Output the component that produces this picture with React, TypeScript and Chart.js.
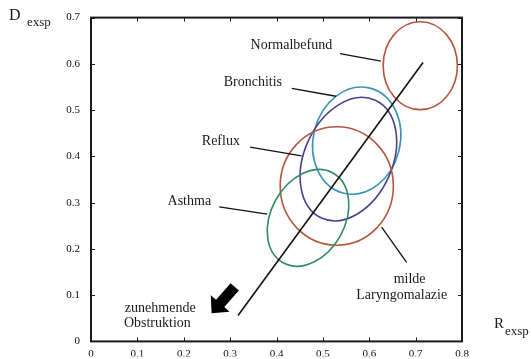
import React, { useEffect, useRef } from "react";
import { Chart, registerables } from "chart.js";

Chart.register(...registerables);

// Axes
const xTickLabels = ["0", "0.1", "0.2", "0.3", "0.4", "0.5", "0.6", "0.7", "0.8"];
const yTickLabels = ["0", "0.1", "0.2", "0.3", "0.4", "0.5", "0.6", "0.7"];

// Ellipses (data units): centre, horizontal/vertical semi-axes, tilt (deg, clockwise)
const ellipseNames = ["Normalbefund", "Bronchitis", "Reflux", "milde Laryngomalazie", "Asthma"];
const ellipseCx = [0.71, 0.573, 0.555, 0.53, 0.468];
const ellipseCy = [0.596, 0.434, 0.394, 0.336, 0.267];
const ellipseRx = [0.08, 0.0936, 0.095, 0.122, 0.0796];
const ellipseRy = [0.095, 0.117, 0.14, 0.128, 0.111];
const ellipseTilt = [0, 14, 24.5, 0, 29];
const ellipseColors = ["#b5573f", "#3a93b8", "#4a3f8c", "#b5573f", "#2f8c63"];

// Label text lines and anchors (data units)
const labelLines = [["Normalbefund"], ["Bronchitis"], ["Reflux"], ["milde", "Laryngomalazie"], ["Asthma"]];
const labelX = [[0.432], [0.349], [0.28], [0.687, 0.67], [0.212]];
const labelY = [[0.64], [0.559], [0.432], [0.1345, 0.0988], [0.302]];
// Leader lines: from (x1,y1) to (x2,y2)
const leaderX1 = [0.537, 0.433, 0.343, 0.6806, 0.2765];
const leaderY1 = [0.622, 0.547, 0.42, 0.1707, 0.291];
const leaderX2 = [0.625, 0.528, 0.454, 0.6267, 0.38];
const leaderY2 = [0.606, 0.53, 0.401, 0.247, 0.275];

// Trend line
const trendX = [0.317, 0.716];
const trendY = [0.056, 0.603];

// Obstruction arrow and note
const arrowTail = [0.31, 0.118];
const arrowTip = [0.26, 0.061];
const noteLines = ["zunehmende", "Obstruktion"];
const noteX = [0.073, 0.071];
const noteY = [0.071, 0.0384];

const FONT = '"Liberation Serif", "Times New Roman", serif';

const overlayPlugin = {
  id: "overlay",
  beforeDatasetsDraw(chart: any) {
    const { ctx, chartArea: a, scales } = chart;
    const xs = scales.x;
    const ys = scales.y;
    const kx = Math.abs(xs.getPixelForValue(1) - xs.getPixelForValue(0));
    const ky = Math.abs(ys.getPixelForValue(1) - ys.getPixelForValue(0));
    ctx.save();
    // ellipses
    ctx.lineWidth = 1.6;
    for (let i = 0; i < ellipseNames.length; i++) {
      ctx.beginPath();
      ctx.strokeStyle = ellipseColors[i];
      ctx.ellipse(
        xs.getPixelForValue(ellipseCx[i]),
        ys.getPixelForValue(ellipseCy[i]),
        ellipseRx[i] * kx,
        ellipseRy[i] * ky,
        (ellipseTilt[i] * Math.PI) / 180,
        0,
        Math.PI * 2
      );
      ctx.stroke();
    }
    // leader lines
    ctx.strokeStyle = "#111";
    ctx.lineWidth = 1.3;
    for (let i = 0; i < leaderX1.length; i++) {
      ctx.beginPath();
      ctx.moveTo(xs.getPixelForValue(leaderX1[i]), ys.getPixelForValue(leaderY1[i]));
      ctx.lineTo(xs.getPixelForValue(leaderX2[i]), ys.getPixelForValue(leaderY2[i]));
      ctx.stroke();
    }
    // labels
    ctx.fillStyle = "#1a1a1a";
    ctx.font = `14px ${FONT}`;
    ctx.textAlign = "center";
    ctx.textBaseline = "middle";
    for (let i = 0; i < labelLines.length; i++) {
      for (let j = 0; j < labelLines[i].length; j++) {
        ctx.fillText(labelLines[i][j], xs.getPixelForValue(labelX[i][j]), ys.getPixelForValue(labelY[i][j]));
      }
    }
    ctx.textAlign = "left";
    for (let j = 0; j < noteLines.length; j++) {
      ctx.fillText(noteLines[j], xs.getPixelForValue(noteX[j]), ys.getPixelForValue(noteY[j]));
    }
    // arrow
    const tx = xs.getPixelForValue(arrowTail[0]);
    const ty = ys.getPixelForValue(arrowTail[1]);
    const hx = xs.getPixelForValue(arrowTip[0]);
    const hy = ys.getPixelForValue(arrowTip[1]);
    const dx = hx - tx;
    const dy = hy - ty;
    const len = Math.hypot(dx, dy);
    const ux = dx / len;
    const uy = dy / len;
    const nx = -uy;
    const ny = ux;
    const headLen = 13;
    const headW = 12.5;
    const shaftW = 5.5;
    const bx = hx - ux * headLen;
    const by = hy - uy * headLen;
    ctx.fillStyle = "#000";
    ctx.beginPath();
    ctx.moveTo(tx + nx * shaftW, ty + ny * shaftW);
    ctx.lineTo(bx + nx * shaftW, by + ny * shaftW);
    ctx.lineTo(bx + nx * headW, by + ny * headW);
    ctx.lineTo(hx, hy);
    ctx.lineTo(bx - nx * headW, by - ny * headW);
    ctx.lineTo(bx - nx * shaftW, by - ny * shaftW);
    ctx.lineTo(tx - nx * shaftW, ty - ny * shaftW);
    ctx.closePath();
    ctx.fill();

    // frame
    ctx.strokeStyle = "#1a1a1a";
    ctx.lineWidth = 2;
    ctx.strokeRect(a.left, a.top, a.right - a.left, a.bottom - a.top);
    // inward tick marks
    ctx.lineWidth = 1;
    const tl = 4;
    for (let i = 0; i < xTickLabels.length; i++) {
      const px = Math.round(xs.getPixelForValue(i * 0.1)) + 0.5;
      ctx.beginPath();
      ctx.moveTo(px, a.bottom);
      ctx.lineTo(px, a.bottom - tl);
      ctx.moveTo(px, a.top);
      ctx.lineTo(px, a.top + tl);
      ctx.stroke();
    }
    for (let i = 0; i < yTickLabels.length; i++) {
      const py = Math.round(ys.getPixelForValue(i * 0.1)) + 0.5;
      ctx.beginPath();
      ctx.moveTo(a.left, py);
      ctx.lineTo(a.left + tl, py);
      ctx.moveTo(a.right, py);
      ctx.lineTo(a.right - tl, py);
      ctx.stroke();
    }
    // axis titles
    ctx.fillStyle = "#1a1a1a";
    ctx.textAlign = "left";
    ctx.textBaseline = "alphabetic";
    ctx.font = `16px ${FONT}`;
    ctx.fillText("D", 9, 20);
    ctx.font = `13px ${FONT}`;
    ctx.fillText("exsp", 27, 26);
    ctx.font = `15px ${FONT}`;
    ctx.fillText("R", 494, 328);
    ctx.font = `13px ${FONT}`;
    ctx.fillText("exsp", 505, 335);
    ctx.restore();
  },
};

export default function App() {
  const ref = useRef<HTMLCanvasElement>(null);
  useEffect(() => {
    if (!ref.current) return;
    const chart = new Chart(ref.current, {
      type: "scatter",
      data: {
        datasets: [
          {
            label: "Trend",
            data: trendX.map((x, i) => ({ x, y: trendY[i] })),
            showLine: true,
            borderColor: "#111",
            borderWidth: 1.6,
            pointRadius: 0,
          },
        ],
      },
      options: {
        animation: false,
        responsive: false,
        devicePixelRatio: 1,
        layout: { padding: { top: 16, right: 69, left: 0, bottom: 0 } },
        plugins: { legend: { display: false }, tooltip: { enabled: false } },
        scales: {
          x: {
            type: "linear",
            min: 0,
            max: 0.8,
            afterFit: (s: any) => {
              s.height = 15;
            },
            afterBuildTicks: (s: any) => {
              s.ticks = xTickLabels.map((_, i) => ({ value: i * 0.1 }));
            },
            ticks: {
              padding: 6,
              maxRotation: 0,
              autoSkip: false,
              color: "#111",
              font: { family: FONT, size: 11 },
              callback: (_v: any, i: number) => xTickLabels[i],
            },
            grid: { display: false, drawTicks: false },
            border: { display: false },
          },
          y: {
            type: "linear",
            min: 0,
            max: 0.7,
            afterFit: (s: any) => {
              s.width = 91;
            },
            afterBuildTicks: (s: any) => {
              s.ticks = yTickLabels.map((_, i) => ({ value: i * 0.1 }));
            },
            ticks: {
              padding: 11,
              autoSkip: false,
              color: "#111",
              font: { family: FONT, size: 11 },
              callback: (_v: any, i: number) => yTickLabels[i],
            },
            grid: { display: false, drawTicks: false },
            border: { display: false },
          },
        },
      },
      plugins: [overlayPlugin],
    });
    return () => chart.destroy();
  }, []);
  return (
    <div style={{ position: "absolute", left: 0, top: 0, width: 531, height: 359, background: "#fff" }}>
      <canvas ref={ref} width={531} height={359} />
    </div>
  );
}
